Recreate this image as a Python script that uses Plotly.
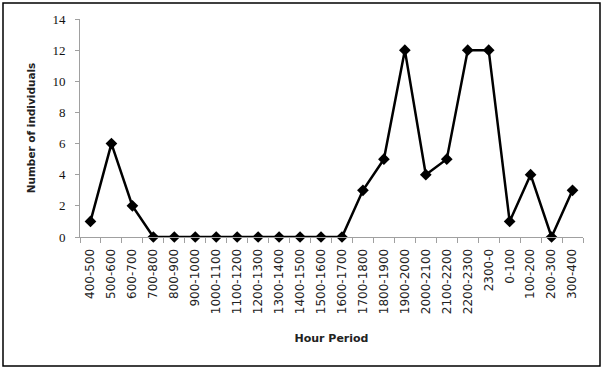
import plotly.graph_objects as go

categories = ["400-500", "500-600", "600-700", "700-800", "800-900", "900-1000",
              "1000-1100", "1100-1200", "1200-1300", "1300-1400", "1400-1500",
              "1500-1600", "1600-1700", "1700-1800", "1800-1900", "1900-2000",
              "2000-2100", "2100-2200", "2200-2300", "2300-0", "0-100",
              "100-200", "200-300", "300-400"]
individuals = [1, 6, 2, 0, 0, 0, 0, 0, 0, 0, 0, 0, 0, 3, 5, 12, 4, 5, 12, 12, 1, 4, 0, 3]
y_ticks = [0, 2, 4, 6, 8, 10, 12, 14]

fig = go.Figure()
fig.add_trace(go.Scatter(
    x=categories, y=individuals, mode="lines+markers",
    line=dict(color="black", width=2.5),
    marker=dict(symbol="diamond", size=9, color="black"),
    cliponaxis=False,
))

L, R, T, B = 80, 22, 19, 134
pw = 605 - L - R
ph = 371 - T - B

fig.update_layout(
    width=605, height=371,
    margin=dict(l=L, r=R, t=T, b=B, autoexpand=False),
    paper_bgcolor="white", plot_bgcolor="white",
    showlegend=False,
    font=dict(family="DejaVu Sans", size=11, color="#222"),
    xaxis=dict(
        type="category", range=[-0.5, 23.5], automargin=False,
        showgrid=False, showline=True, linecolor="#a0a0a0", linewidth=1,
        ticks="outside", tickson="boundaries", ticklen=5, tickcolor="#a0a0a0",
        tickangle=-90, tickfont=dict(size=12), ticklabelstandoff=6,
        title=dict(text="<b>Hour Period</b>", font=dict(size=11), standoff=21),
    ),
    yaxis=dict(
        range=[0, 14], tickvals=y_ticks, automargin=False,
        showgrid=False, showline=True, linecolor="#a0a0a0", linewidth=1,
        ticks="outside", ticklen=4, tickcolor="#a0a0a0", zeroline=False,
        tickfont=dict(size=13, family="Liberation Serif", color="#111"),
        ticklabelstandoff=7,
        title=dict(text="<b>Number of individuals</b>", font=dict(size=10.5), standoff=14),
    ),
    shapes=[dict(
        type="rect", xref="paper", yref="paper", layer="above",
        x0=(3 - L) / pw, x1=(600 - L) / pw,
        y0=(ph - (366 - T)) / ph, y1=(ph - (3 - T)) / ph,
        line=dict(color="black", width=1.5), fillcolor="rgba(0,0,0,0)",
    )],
)

fig.write_html("out.html", config={"displayModeBar": False},
               post_script="document.body.style.margin='0';document.body.style.padding='0';")
